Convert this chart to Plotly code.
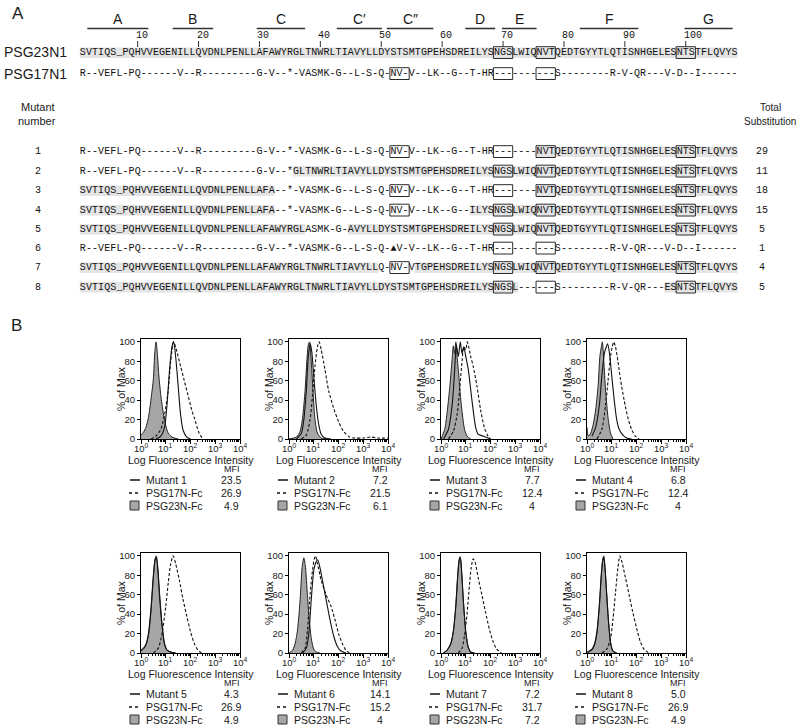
import math
import plotly.graph_objects as go

W, H = 800, 727
SANS = "Liberation Sans, Arial, sans-serif"
MONO = "Liberation Mono, DejaVu Sans Mono, monospace"
INK = "#1a1a1a"

# ------------------------------------------------------------------ Panel A data
PSG23N1 = "SVTIQS_PQHVVEGENILLQVDNLPENLLAFAWYRGLTNWRLTIAVYLLDYSTSMTGPEHSDREILYSNGSLWIQNVTQEDTGYYTLQTISNHGELESNTSTFLQVYS"
PSG17N1 = ("R--VEFL-PQ" "------" "V--R" "---------" "G-V--*-VASMK-G--L-S-Q-" "NV-" "V--LK--G--T-HR"
           "---" "----" "---" "S" "--------" "R-V-QR---V-D--I" "------")
MUTANT_SEQS = [
    "R--VEFL-PQ------V--R---------G-V--*-VASMK-G--L-S-Q-NV-V--LK--G--T-HR-------NVTQEDTGYYTLQTISNHGELESNTSTFLQVYS",
    "R--VEFL-PQ------V--R---------G-V--*GLTNWRLTIAVYLLDYSTSMTGPEHSDREILYSNGSLWIQNVTQEDTGYYTLQTISNHGELESNTSTFLQVYS",
    "SVTIQS_PQHVVEGENILLQVDNLPENLLAFA--*-VASMK-G--L-S-Q-NV-V--LK--G--T-HR-------NVTQEDTGYYTLQTISNHGELESNTSTFLQVYS",
    "SVTIQS_PQHVVEGENILLQVDNLPENLLAFA--*-VASMK-G--L-S-Q-NV-V--LK--G--ILYSNGSLWIQNVTQEDTGYYTLQTISNHGELESNTSTFLQVYS",
    "SVTIQS_PQHVVEGENILLQVDNLPENLLAFAWYRGLASMK-G-AVYLLDYSTSMTGPEHSDREILYSNGSLWIQNVTQEDTGYYTLQTISNHGELESNTSTFLQVYS",
    ("R--VEFL-PQ" "------" "V--R" "---------" "G-V--*-VASMK-G--L-S-Q-" "\u25b2V-" "V--LK--G--T-HR"
     "---" "----" "---" "S" "--------" "R-V-QR---V-D--I" "------"),
    "SVTIQS_PQHVVEGENILLQVDNLPENLLAFAWYRGLTNWRLTIAVYLLQ-NV-VTGPEHSDREILYSNGSLWIQNVTQEDTGYYTLQTISNHGELESNTSTFLQVYS",
    "SVTIQS_PQHVVEGENILLQVDNLPENLLAFAWYRGLTNWRLTIAVYLLDYSTSMTGPEHSDREILYSNGSL------S--------R-V-QR---ESNTSTFLQVYS",
]
MUTANT_NUMBERS = ["1", "2", "3", "4", "5", "6", "7", "8"]
TOTAL_SUBSTITUTION = [29, 11, 18, 15, 5, 1, 4, 5]
# boxed N-glycosylation sites (first residue of each box)
BOXES_PSG23 = [69, 76, 99]
BOXES_PSG17 = [52, 69, 76]
BOXES_MUTANTS = [
    [52, 69, 76, 99], [69, 76, 99], [52, 69, 76, 99], [52, 69, 76, 99],
    [69, 76, 99], [69, 76], [52, 69, 76, 99], [69, 76, 99],
]
STRAND_NAMES = ["A", "B", "C", "C\u2032", "C\u2033", "D", "E", "F", "G"]
STRAND_START = [1.23, 15.25, 29.05, 42.2, 50.4, 63.3, 69.3, 82.1, 99.3]
STRAND_END = [11.25, 21.9, 37.0, 49.6, 58.05, 68.2, 75.0, 91.7, 107.2]
RESIDUE_TICKS = [10, 20, 30, 40, 50, 60, 70, 80, 90, 100]

# ------------------------------------------------------------------ Panel B data
MUTANT_LABELS = ["Mutant 1", "Mutant 2", "Mutant 3", "Mutant 4",
                 "Mutant 5", "Mutant 6", "Mutant 7", "Mutant 8"]
MFI_MUTANT = ["23.5", "7.2", "7.7", "6.8", "4.3", "14.1", "7.2", "5.0"]
MFI_PSG17 = ["26.9", "21.5", "12.4", "12.4", "26.9", "15.2", "31.7", "26.9"]
MFI_PSG23 = ["4.9", "6.1", "4", "4", "4.9", "4", "7.2", "4.9"]
X_TICKS = [0, 1, 2, 3, 4]
X_TICK_LABELS = ["10<sup>0</sup>", "10<sup>1</sup>", "10<sup>2</sup>", "10<sup>3</sup>", "10<sup>4</sup>"]
Y_TICKS = [0, 20, 40, 60, 80, 100]

# histogram outlines: x = log10(intensity), y = % of max
p1_psg23_x = [0, 0.1, 0.2, 0.3, 0.4, 0.5, 0.56, 0.61, 0.66, 0.72, 0.8, 0.9, 1.0, 1.1, 1.25, 1.5]
p1_psg23_y = [4, 7, 12, 22, 40, 62, 90, 100, 88, 66, 45, 27, 14, 6, 2, 0]
p1_mut_x = [0.6, 0.8, 0.95, 1.05, 1.15, 1.25, 1.32, 1.4, 1.5, 1.6, 1.7, 1.85, 2.0]
p1_mut_y = [0, 3, 12, 35, 70, 95, 100, 85, 55, 25, 9, 2, 0]
p1_psg17_x = [0.4, 0.6, 0.8, 0.95, 1.1, 1.2, 1.32, 1.45, 1.6, 1.75, 1.9, 2.05, 2.15, 2.35, 2.5]
p1_psg17_y = [0, 3, 10, 25, 50, 80, 100, 90, 75, 60, 45, 30, 22, 6, 0]

p2_psg23_x = [0, 0.3, 0.45, 0.55, 0.65, 0.72, 0.78, 0.83, 0.9, 0.98, 1.05, 1.15, 1.3, 1.5]
p2_psg23_y = [0, 2, 8, 22, 50, 80, 97, 100, 80, 45, 20, 6, 1, 0]
p2_mut_x = [0.3, 0.5, 0.6, 0.7, 0.78, 0.86, 0.92, 1.0, 1.1, 1.2, 1.3, 1.45, 1.7]
p2_mut_y = [0, 6, 20, 50, 85, 98, 90, 65, 35, 15, 5, 1, 0]
p2_psg17_x = [0.5, 0.7, 0.85, 0.95, 1.05, 1.15, 1.22, 1.3, 1.45, 1.6, 1.8, 2.0, 2.2, 2.45, 2.7, 3.0, 3.3, 3.6, 4.0]
p2_psg17_y = [0, 4, 20, 45, 75, 95, 100, 92, 72, 50, 32, 18, 8, 2, 1, 1, 2, 1, 1]

p3_psg23_x = [0, 0.15, 0.25, 0.35, 0.45, 0.5, 0.55, 0.6, 0.65, 0.72, 0.8, 0.88, 0.95, 1.05, 1.2]
p3_psg23_y = [0, 10, 28, 52, 82, 96, 88, 100, 85, 65, 40, 22, 10, 3, 0]
p3_mut_x = [0.1, 0.3, 0.45, 0.55, 0.62, 0.7, 0.78, 0.85, 0.92, 1.0, 1.1, 1.25, 1.4, 1.5, 1.7, 2.0]
p3_mut_y = [0, 10, 35, 70, 97, 85, 100, 88, 95, 85, 72, 40, 12, 5, 3, 0]
p3_psg17_x = [0.3, 0.5, 0.65, 0.75, 0.85, 0.92, 1.0, 1.06, 1.12, 1.2, 1.3, 1.45, 1.6, 1.75, 1.9, 2.0]
p3_psg17_y = [0, 8, 25, 50, 80, 95, 92, 100, 95, 85, 75, 55, 30, 12, 3, 0]

p4_psg23_x = [0, 0.05, 0.15, 0.25, 0.35, 0.45, 0.52, 0.58, 0.62, 0.68, 0.75, 0.85, 0.95, 1.05]
p4_psg23_y = [12, 3, 6, 15, 30, 55, 85, 95, 100, 80, 50, 22, 6, 0]
p4_mut_x = [0.2, 0.35, 0.5, 0.6, 0.7, 0.78, 0.83, 0.9, 1.0, 1.1, 1.2, 1.3, 1.45, 1.6, 1.8]
p4_mut_y = [3, 12, 35, 65, 88, 95, 98, 90, 65, 40, 20, 10, 4, 1, 0]
p4_psg17_x = [0.4, 0.6, 0.75, 0.85, 0.95, 1.02, 1.08, 1.15, 1.25, 1.35, 1.5, 1.65, 1.8, 1.95, 2.1]
p4_psg17_y = [0, 10, 35, 60, 85, 95, 100, 95, 80, 62, 40, 22, 10, 3, 0]

p5_psg23_x = [0, 0.1, 0.2, 0.3, 0.4, 0.5, 0.57, 0.62, 0.68, 0.75, 0.85, 0.95, 1.05, 1.2, 1.4]
p5_psg23_y = [2, 4, 8, 18, 42, 78, 97, 100, 88, 62, 30, 10, 3, 1, 0]
p5_mut_x = [0, 0.1, 0.2, 0.3, 0.4, 0.5, 0.57, 0.62, 0.68, 0.75, 0.85, 0.95, 1.05, 1.2, 1.4]
p5_mut_y = [3, 5, 9, 20, 45, 80, 96, 98, 85, 58, 28, 9, 3, 1, 0]
p5_psg17_x = [0.5, 0.7, 0.85, 1.0, 1.1, 1.2, 1.3, 1.4, 1.55, 1.7, 1.85, 2.0, 2.15, 2.3, 2.45]
p5_psg17_y = [0, 5, 20, 48, 72, 92, 100, 92, 75, 55, 38, 22, 10, 3, 0]

p6_psg23_x = [0, 0.15, 0.25, 0.35, 0.45, 0.53, 0.6, 0.66, 0.73, 0.8, 0.9, 1.0, 1.1, 1.25]
p6_psg23_y = [0, 3, 10, 25, 55, 88, 98, 90, 65, 40, 15, 4, 1, 0]
p6_mut_x = [0.55, 0.7, 0.8, 0.9, 1.0, 1.08, 1.16, 1.25, 1.35, 1.5, 1.65, 1.8, 1.95, 2.1, 2.3]
p6_mut_y = [0, 5, 20, 55, 85, 93, 96, 88, 75, 55, 35, 18, 7, 2, 0]
p6_psg17_x = [0.5, 0.65, 0.75, 0.85, 0.95, 1.02, 1.07, 1.15, 1.3, 1.5, 1.7, 1.85, 2.0, 2.15, 2.3, 2.45]
p6_psg17_y = [0, 5, 25, 60, 85, 97, 100, 92, 75, 60, 48, 35, 20, 10, 3, 0]

p7_psg23_x = [0.1, 0.25, 0.4, 0.5, 0.6, 0.68, 0.74, 0.78, 0.84, 0.9, 1.0, 1.1, 1.2, 1.35]
p7_psg23_y = [0, 3, 10, 22, 48, 80, 96, 97, 80, 55, 22, 6, 1, 0]
p7_mut_x = [0.1, 0.25, 0.4, 0.5, 0.6, 0.68, 0.74, 0.78, 0.84, 0.9, 1.0, 1.1, 1.2, 1.35]
p7_mut_y = [0, 3, 10, 23, 50, 82, 97, 99, 82, 55, 22, 6, 1, 0]
p7_psg17_x = [0.7, 0.85, 0.95, 1.05, 1.15, 1.22, 1.3, 1.38, 1.5, 1.65, 1.8, 1.95, 2.1, 2.25, 2.45]
p7_psg17_y = [0, 5, 18, 40, 70, 88, 97, 93, 78, 60, 42, 25, 12, 4, 0]

p8_psg23_x = [0, 0.2, 0.3, 0.4, 0.5, 0.58, 0.64, 0.68, 0.73, 0.8, 0.88, 0.96, 1.05, 1.2]
p8_psg23_y = [0, 3, 8, 20, 48, 80, 97, 100, 88, 60, 30, 10, 2, 0]
p8_mut_x = [0, 0.2, 0.3, 0.4, 0.5, 0.58, 0.64, 0.68, 0.73, 0.8, 0.88, 0.96, 1.05, 1.2]
p8_mut_y = [1, 4, 9, 22, 50, 82, 96, 98, 86, 58, 28, 9, 2, 0]
p8_psg17_x = [0.6, 0.8, 0.95, 1.05, 1.15, 1.25, 1.33, 1.42, 1.55, 1.7, 1.85, 2.0, 2.15, 2.3, 2.5]
p8_psg17_y = [0, 4, 15, 35, 62, 88, 100, 93, 78, 60, 42, 26, 12, 4, 0]

PANELS = [
    (p1_psg23_x, p1_psg23_y, p1_mut_x, p1_mut_y, p1_psg17_x, p1_psg17_y),
    (p2_psg23_x, p2_psg23_y, p2_mut_x, p2_mut_y, p2_psg17_x, p2_psg17_y),
    (p3_psg23_x, p3_psg23_y, p3_mut_x, p3_mut_y, p3_psg17_x, p3_psg17_y),
    (p4_psg23_x, p4_psg23_y, p4_mut_x, p4_mut_y, p4_psg17_x, p4_psg17_y),
    (p5_psg23_x, p5_psg23_y, p5_mut_x, p5_mut_y, p5_psg17_x, p5_psg17_y),
    (p6_psg23_x, p6_psg23_y, p6_mut_x, p6_mut_y, p6_psg17_x, p6_psg17_y),
    (p7_psg23_x, p7_psg23_y, p7_mut_x, p7_mut_y, p7_psg17_x, p7_psg17_y),
    (p8_psg23_x, p8_psg23_y, p8_mut_x, p8_mut_y, p8_psg17_x, p8_psg17_y),
]

# ------------------------------------------------------------------ helpers
def px(x):
    return x / W

def py(y):
    return 1 - y / H

annotations = []
shapes = []

def text(t, x, y, size, family=SANS, xanchor="center", yanchor="middle", color=INK, angle=0, xref="paper"):
    annotations.append(dict(text=t, x=px(x) if xref == "paper" else x, y=py(y), xref=xref, yref="paper",
                            showarrow=False, xanchor=xanchor, yanchor=yanchor,
                            textangle=angle, borderpad=0,
                            font=dict(size=size, family=family, color=color)))

def line(x0, y0, x1, y1, color=INK, width=1, dash="solid"):
    shapes.append(dict(type="line", xref="paper", yref="paper",
                       x0=px(x0), y0=py(y0), x1=px(x1), y1=py(y1),
                       line=dict(color=color, width=width, dash=dash)))

def rect(x0, y0, x1, y1, fill="rgba(0,0,0,0)", color=None, width=1, layer="above"):
    shapes.append(dict(type="rect", xref="paper", yref="paper", layer=layer,
                       x0=px(x0), y0=py(y0), x1=px(x1), y1=py(y1),
                       fillcolor=fill,
                       line=dict(color=color if color else "rgba(0,0,0,0)", width=width if color else 0)))

fig = go.Figure()
layout_axes = {}

# ------------------------------------------------------------------ Panel A
SEQ_X0 = 79.8
CW = 6.09
SEQ_FS = 10
SHADE = "#e4e4e4"

def res_x(u):
    return SEQ_X0 + u * CW

text("A", 11, 13, 17, xanchor="left")
for name, s, e in zip(STRAND_NAMES, STRAND_START, STRAND_END):
    line(res_x(s), 28.5, res_x(e), 28.5, width=1.6, color="#333")
    text(name, (res_x(s) + res_x(e)) / 2, 19.5, 14)
for r in RESIDUE_TICKS:
    xc = res_x(r - 0.5)
    line(xc, 41, xc, 47, width=1, color="#333")
    text(str(r), xc - 3, 35, 10, family=MONO, xanchor="left", color="#111")

char_x, char_y, char_t = [], [], []

def seq_row(seq, y, boxes):
    # light grey shading behind residues identical to PSG23N1
    run = None
    for i, ch in enumerate(seq + " "):
        same = i < len(seq) and ch == PSG23N1[i]
        if same and run is None:
            run = i
        if not same and run is not None:
            rect(res_x(run), y - 5, res_x(i), y + 5.5, fill=SHADE, layer="below")
            run = None
    for b in boxes:
        rect(res_x(b - 1) - 0.5, y - 5.8, res_x(b + 2) + 0.5, y + 6, color="#2a2a2a", width=1, layer="below")
    for i, ch in enumerate(seq):
        char_x.append(res_x(i + 0.5))
        char_y.append(y)
        char_t.append(ch)

text("PSG23N1", 3, 52.5, 14, xanchor="left")
seq_row(PSG23N1, 52.5, BOXES_PSG23)
text("PSG17N1", 3, 73.5, 14, xanchor="left")
seq_row(PSG17N1, 73.5, BOXES_PSG17)

text("Mutant", 38, 107, 11)
text("number", 37, 121, 11)
text("Total", 770, 107, 10)
text("Substitution", 770, 121, 10)

ROW_Y = [151.5, 171, 190.5, 210, 229, 248, 267.5, 287]
for num, seq, boxes, tot, y in zip(MUTANT_NUMBERS, MUTANT_SEQS, BOXES_MUTANTS, TOTAL_SUBSTITUTION, ROW_Y):
    char_x.append(38); char_y.append(y); char_t.append(num)
    seq_row(seq, y, boxes)
    char_x.append(762); char_y.append(y); char_t.append(str(tot))

# alignment characters on a full-figure pixel-scaled overlay axis
fig.add_trace(go.Scatter(x=char_x, y=char_y, text=char_t, mode="text", xaxis="x9", yaxis="y9",
                         textposition="middle center", cliponaxis=False,
                         textfont=dict(family=MONO, size=SEQ_FS, color="#111"),
                         showlegend=False, hoverinfo="skip"))
layout_axes["xaxis9"] = dict(domain=[0, 1], range=[0, W], anchor="y9", visible=False, fixedrange=True)
layout_axes["yaxis9"] = dict(domain=[0, 1], range=[H, 0], anchor="x9", visible=False, fixedrange=True)

text("B", 10, 326, 17, xanchor="left")

# ------------------------------------------------------------------ Panel B
PANEL_LEFT = [141, 289, 441, 587]
ROW_BOTTOM = [439, 653]
BOX_W = 99
BOX_H = 100
FILL_GREY = "#a6a6a6"

minor_vals = [d + math.log10(k) for d in range(4) for k in range(2, 10)]

for i, (fx, fy, mx, my, dx, dy) in enumerate(PANELS):
    row, col = divmod(i, 4)
    bl = PANEL_LEFT[col]
    rb = ROW_BOTTOM[row]
    k = i + 1
    xa = "x" if k == 1 else "x%d" % k
    ya = "y" if k == 1 else "y%d" % k
    fig.add_trace(go.Scatter(x=fx, y=fy, xaxis=xa, yaxis=ya, mode="lines",
                             line=dict(color="#222", width=1, shape="spline", smoothing=0.7),
                             fill="tozeroy", fillcolor=FILL_GREY, showlegend=False, hoverinfo="skip"))
    fig.add_trace(go.Scatter(x=mx, y=my, xaxis=xa, yaxis=ya, mode="lines",
                             line=dict(color="#111", width=1.1, shape="spline", smoothing=0.7),
                             showlegend=False, hoverinfo="skip"))
    fig.add_trace(go.Scatter(x=dx, y=dy, xaxis=xa, yaxis=ya, mode="lines",
                             line=dict(color="#111", width=1.1, shape="spline", smoothing=0.7, dash="3px,2px"),
                             showlegend=False, hoverinfo="skip"))
    xkey = "xaxis" if k == 1 else "xaxis%d" % k
    ykey = "yaxis" if k == 1 else "yaxis%d" % k
    layout_axes[xkey] = dict(
        domain=[px(bl), px(bl + BOX_W)], anchor=ya, range=[0, 4],
        tickvals=X_TICKS, showticklabels=False,
        ticks="outside", ticklen=4, tickwidth=1, tickcolor="black",
        minor=dict(tickvals=minor_vals, ticks="outside", ticklen=2, tickcolor="black", tickwidth=1),
        showline=True, linecolor="black", linewidth=1, mirror=True,
        showgrid=False, zeroline=False, fixedrange=True)
    layout_axes[ykey] = dict(
        domain=[py(rb), py(rb - BOX_H)], anchor=xa, range=[0, 103],
        tickvals=Y_TICKS, ticks="outside", ticklen=3, tickwidth=1, tickcolor="black",
        showline=True, linecolor="black", linewidth=1, mirror=True,
        showgrid=False, zeroline=False, fixedrange=True,
        tickfont=dict(size=9.5, family=SANS, color=INK))

    for tv, tl in zip(X_TICKS, X_TICK_LABELS):
        text(tl, tv, rb + 9, 9.5, xref=xa)
    text("% of Max", bl - 20, rb - 50, 10.5, angle=-90)
    text("Log Fluorescence Intensity", bl + BOX_W / 2, rb + 20.5, 10.5)
    text("MFI", bl + 91, rb + 30, 9)
    # legend rows
    line(bl - 11, rb + 41, bl - 1, rb + 41, color="#111", width=1.5)
    text(MUTANT_LABELS[i], bl + 3.5, rb + 41, 10.5, xanchor="left")
    text(MFI_MUTANT[i], bl + 91, rb + 41, 10.5)
    line(bl - 12, rb + 54, bl - 1, rb + 54, color="#111", width=1.5, dash="dot")
    text("PSG17N-Fc", bl + 3.5, rb + 54, 10.5, xanchor="left")
    text(MFI_PSG17[i], bl + 91, rb + 54, 10.5)
    rect(bl - 11, rb + 62, bl - 2, rb + 71, fill=FILL_GREY, color="#333", width=1)
    text("PSG23N-Fc", bl + 3.5, rb + 66.5, 10.5, xanchor="left")
    text(MFI_PSG23[i], bl + 91, rb + 66.5, 10.5)

fig.update_layout(
    width=W, height=H, autosize=False,
    margin=dict(l=0, r=0, t=0, b=0, autoexpand=False),
    paper_bgcolor="white", plot_bgcolor="rgba(0,0,0,0)",
    showlegend=False,
    annotations=annotations, shapes=shapes,
    **layout_axes,
)

fig.write_html("out.html", config={"displayModeBar": False},
               post_script="document.body.style.margin='0px';")
